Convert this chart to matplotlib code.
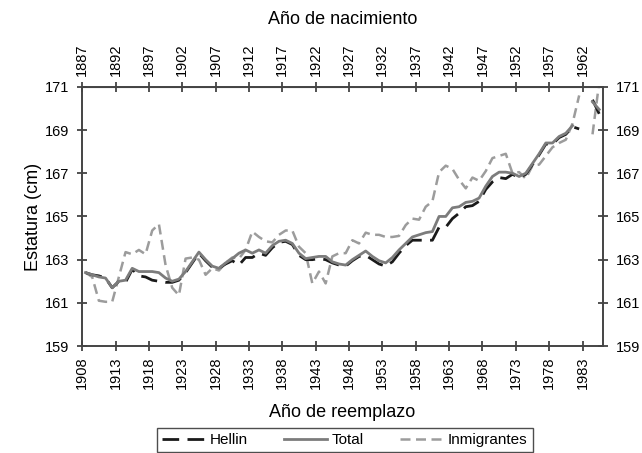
import numpy as np
import matplotlib.pyplot as plt

plt.rcParams['font.family'] = ['Liberation Sans', 'DejaVu Sans']

# Año de reemplazo 1908-1985
years = np.arange(1908, 1986)
nan = np.nan

hellin = [162.4, 162.3, 162.25, 162.15, 161.7, 162.0, 161.95, 162.55, 162.25, 162.2,
          162.05, 162.0, 161.95, 161.95, 162.05, 162.4, 162.85, 163.3, 162.95, 162.65,
          162.6, 162.8, 162.95, 162.75, 163.1, 163.1, 163.3, 163.2, 163.55, 163.8,
          163.85, 163.7, 163.2, 163.0, 163.0, 163.05, 163.0, 162.85, 162.75, 162.7,
          162.95, 163.15, 163.2, 163.0, 162.8, 162.7, 162.9, 163.3, 163.65, 163.9,
          163.9, 163.9, 163.9, 164.5, 164.5, 164.9, 165.15, 165.45, 165.5, 165.7,
          166.25, 166.6, 166.8, 166.75, 166.95, 166.8, 166.95, 167.4, 167.85, 168.35,
          168.35, 168.65, 168.8, 169.15, 169.05, nan, 170.4, 169.75]

total = [162.4, 162.3, 162.2, 162.15, 161.7, 162.0, 162.05, 162.6, 162.45, 162.45,
         162.45, 162.4, 162.15, 162.0, 162.1, 162.45, 162.9, 163.35, 163.0, 162.7,
         162.6, 162.85, 163.05, 163.3, 163.45, 163.3, 163.45, 163.3, 163.65, 163.85,
         163.9, 163.75, 163.3, 163.05, 163.1, 163.15, 163.15, 162.9, 162.8, 162.75,
         163.0, 163.2, 163.4, 163.15, 162.95, 162.85, 163.1, 163.45, 163.75, 164.05,
         164.15, 164.25, 164.3, 165.0, 165.0, 165.4, 165.45, 165.65, 165.7, 165.85,
         166.4, 166.85, 167.05, 167.05, 167.0, 166.85, 167.0, 167.45, 167.9, 168.4,
         168.4, 168.7, 168.85, 169.2, nan, nan, 170.3, 169.95]

inmigrantes = [162.4, 162.2, 161.1, 161.05, 161.05, 162.2, 163.35, 163.25, 163.45, 163.25,
               164.35, 164.65, 162.75, 161.7, 161.35, 163.05, 163.1, 163.0, 162.3, 162.6,
               162.5, 162.85, 163.1, 163.05, 163.45, 164.3, 164.05, 163.85, 163.8, 164.15,
               164.35, 164.35, 163.6, 163.3, 161.9, 162.45, 161.9, 163.15, 163.3, 163.3,
               163.9, 163.75, 164.25, 164.15, 164.15, 164.05, 164.05, 164.1, 164.6, 164.9,
               164.85, 165.45, 165.7, 167.05, 167.35, 167.2, 166.7, 166.3, 166.8, 166.65,
               167.1, 167.7, 167.8, 167.9, 167.0, 167.05, 166.75, 167.35, 167.4, 167.8,
               168.2, 168.4, 168.55, 169.3, 170.6, nan, 168.8, 171.2]

xticks = np.arange(1908, 1984, 5)
yticks = np.arange(159, 172, 2)

fig = plt.figure(figsize=(6.42, 4.53), dpi=100)
ax = fig.add_axes([0.128, 0.236, 0.8105, 0.5724])

# points sit in the middle of each year slot
xpos = years + 0.5
ax.plot(xpos, inmigrantes, color='#9c9c9c', lw=1.8, dashes=(4, 2.2), label='Inmigrantes')
ax.plot(xpos, hellin, color='#1a1a1a', lw=2.0, dashes=(6, 3), label='Hellin')
ax.plot(xpos, total, color='#7c7c7c', lw=2.0, label='Total')

ax.set_xlim(1908, 1986)
ax.set_ylim(159, 171)
ax.set_xticks(xticks)
ax.set_xticklabels([str(y) for y in xticks], rotation=90, fontsize=10.5)
ax.set_yticks(yticks)
ax.set_yticklabels([str(y) for y in yticks], fontsize=10.5)
ax.tick_params(axis='both', direction='inout', length=7, width=1.2, color='#333333')
ax.tick_params(axis='y', right=True, labelright=True, pad=6)
ax.tick_params(axis='x', pad=4)
for s in ax.spines.values():
    s.set_color('#444444')
    s.set_linewidth(1.4)

ax.set_xlabel('Año de reemplazo', fontsize=13, labelpad=11)
ax.set_ylabel('Estatura (cm)', fontsize=13, labelpad=2)

top = ax.secondary_xaxis('top', functions=(lambda x: x - 21, lambda x: x + 21))
top.set_xticks(xticks - 21)
top.set_xticklabels([str(y) for y in xticks - 21], rotation=90, fontsize=10.5)
top.tick_params(direction='inout', length=7, width=1.2, color='#333333', pad=4)
top.spines['top'].set_color('#444444')
top.set_xlabel('Año de nacimiento', fontsize=13, labelpad=14)

h, l = ax.get_legend_handles_labels()
order = [1, 2, 0]
leg = fig.legend([h[i] for i in order], [l[i] for i in order], loc='upper center',
                 bbox_to_anchor=(0.537, 0.056), ncol=3, fontsize=11, frameon=True,
                 fancybox=False, edgecolor='#222222', handlelength=2.8,
                 handletextpad=0.3, columnspacing=2.4, borderpad=0.35,
                 borderaxespad=0)
leg.get_frame().set_linewidth(1.0)

fig.savefig('out.png', dpi=100)
